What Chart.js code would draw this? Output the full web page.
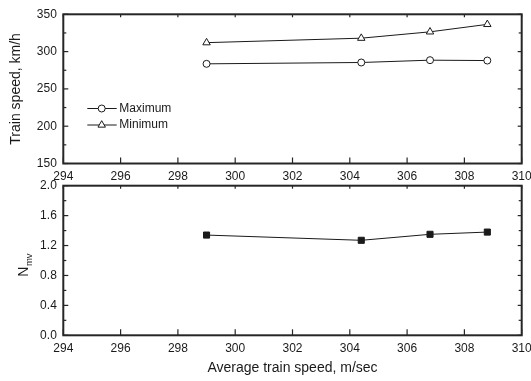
<!DOCTYPE html>
<html><head><meta charset="utf-8">
<script src="https://cdn.jsdelivr.net/npm/chart.js@4.4.0/dist/chart.umd.min.js"></script>
<style>
html,body{margin:0;padding:0;background:#fff;}
#wrap{position:relative;width:531px;height:381px;overflow:hidden;background:#fff;}
canvas{position:absolute;left:0;}
#c1{top:0;}
#c2{top:170px;}
</style></head><body>
<div id="wrap"><canvas id="c1" width="531" height="190"></canvas><canvas id="c2" width="531" height="211"></canvas></div>
<script>
// ---- data ----
const avgSpeed = [299.0, 304.4, 306.8, 308.8];
const maxTrainSpeed = [283.6, 285.4, 288.5, 288.0];
const minTrainSpeed = [312, 318, 326.5, 336.5];
const nmvValues = [1.34, 1.27, 1.35, 1.38];
const xTickValues = [294, 296, 298, 300, 302, 304, 306, 308, 310];
const speedTickValues = [150, 200, 250, 300, 350];
const nmvTickValues = [0.0, 0.4, 0.8, 1.2, 1.6, 2.0];
const seriesLabels = ['Maximum', 'Minimum'];

const FONT = '"Liberation Sans", Arial, sans-serif';
const INK = '#1a1a1a';

function pts(xs, ys){ return xs.map((x,i)=>({x:x, y:ys[i]})); }

function line(ctx,x1,y1,x2,y2){ ctx.beginPath(); ctx.moveTo(x1,y1); ctx.lineTo(x2,y2); ctx.stroke(); }

const framePlugin = {
  id:'frame',
  afterDraw(chart){
    const {ctx, chartArea:a} = chart;
    const x = chart.scales.x, y = chart.scales.y;
    ctx.save();
    ctx.strokeStyle = '#262626';
    ctx.lineWidth = 1.2;
    x.ticks.forEach(t=>{
      const p = x.getPixelForValue(t.value);
      line(ctx,p,a.bottom,p,a.bottom-6);
      line(ctx,p,a.top,p,a.top+3);
    });
    const yt = y.ticks;
    yt.forEach((t,i)=>{
      const p = y.getPixelForValue(t.value);
      line(ctx,a.left,p,a.left+5,p);
      line(ctx,a.right,p,a.right-4,p);
      if(i < yt.length-1){
        const m = y.getPixelForValue((t.value + yt[i+1].value)/2);
        line(ctx,a.left,m,a.left+3,m);
        line(ctx,a.right,m,a.right-3,m);
      }
    });
    ctx.lineWidth = 2;
    ctx.strokeRect(a.left, a.top, a.right-a.left, a.bottom-a.top);
    ctx.restore();
  }
};

const legendPlugin = {
  id:'inlegend',
  afterDraw(chart){
    const ctx = chart.ctx;
    ctx.save();
    chart.data.datasets.forEach((ds,i)=>{
      const yy = 108.5 + i*16.5;
      ctx.strokeStyle = INK; ctx.lineWidth = 1;
      line(ctx, 87.3, yy, 116.7, yy);
      ctx.fillStyle = '#fff'; ctx.strokeStyle = INK; ctx.lineWidth = 1;
      Chart.helpers.drawPoint(ctx, {pointStyle: ds.pointStyle, radius: ds.pointRadius, borderWidth: 1, rotation: 0}, 101.7, yy);
      ctx.fillStyle = INK;
      ctx.font = '12px ' + FONT;
      ctx.textAlign = 'left'; ctx.textBaseline = 'middle';
      ctx.fillText(ds.label, 119.3, yy);
    });
    ctx.restore();
  }
};

const nmvTitlePlugin = {
  id:'nmvtitle',
  afterDraw(chart){
    const ctx = chart.ctx;
    ctx.save();
    ctx.fillStyle = INK;
    ctx.translate(28, 106.7);
    ctx.rotate(-Math.PI/2);
    ctx.textAlign = 'left'; ctx.textBaseline = 'alphabetic';
    ctx.font = '14px ' + FONT;
    ctx.fillText('N', 0, 0);
    const w = ctx.measureText('N').width;
    ctx.font = '9.5px ' + FONT;
    ctx.fillText('mv', w + 0.5, 3.5);
    ctx.restore();
  }
};

function xScale(height, padTitle, showTitle, labelPad){
  return {
    type:'linear', min:294, max:310,
    afterBuildTicks(s){ s.ticks = xTickValues.map(v=>({value:v})); },
    afterFit(s){ s.height = height; s.paddingLeft = 0; s.paddingRight = 0; },
    grid:{display:false, drawTicks:false},
    border:{display:false},
    ticks:{color:INK, font:{family:FONT, size:12}, padding:labelPad, maxRotation:0, autoSkip:false},
    title:{display:showTitle, text:'Average train speed, m/sec', color:INK, font:{family:FONT, size:14}, padding:{top:0,bottom:padTitle}}
  };
}

function yScale(min, max, tickVals, fmt, title){
  return {
    type:'linear', min:min, max:max,
    afterBuildTicks(s){ s.ticks = tickVals.map(v=>({value:v})); },
    afterFit(s){ s.width = 63.3; s.paddingTop = 0; s.paddingBottom = 0; },
    grid:{display:false, drawTicks:false},
    border:{display:false},
    ticks:{color:INK, font:{family:FONT, size:12}, padding:6.5, callback:fmt},
    title:{display:!!title, text:title || '', color:INK, font:{family:FONT, size:14}, padding:{top:7.6,bottom:0}}
  };
}

const common = {
  responsive:false, animation:false, events:[],
  plugins:{legend:{display:false}, tooltip:{enabled:false}}
};

new Chart(document.getElementById('c1'), {
  type:'line',
  data:{datasets:[
    {label:seriesLabels[0], data:pts(avgSpeed, maxTrainSpeed), borderColor:INK, borderWidth:1, pointStyle:'circle', pointRadius:3.5, pointBorderWidth:1, pointBorderColor:INK, pointBackgroundColor:'#fff', tension:0, clip:false},
    {label:seriesLabels[1], data:pts(avgSpeed, minTrainSpeed), borderColor:INK, borderWidth:1, pointStyle:'triangle', pointRadius:4.3, pointBorderWidth:1, pointBorderColor:INK, pointBackgroundColor:'#fff', tension:0, clip:false}
  ]},
  options:Object.assign({}, common, {
    layout:{padding:{top:14.3, right:9.3, left:0, bottom:0}},
    scales:{
      x: xScale(26.5, 0, false, 5.5),
      y: yScale(150, 350, speedTickValues, v=>String(v), 'Train speed, km/h')
    }
  }),
  plugins:[framePlugin, legendPlugin]
});

new Chart(document.getElementById('c2'), {
  type:'line',
  data:{datasets:[
    {label:'Nmv', data:pts(avgSpeed, nmvValues), borderColor:INK, borderWidth:1, pointStyle:'rect', pointRadius:4.3, pointBorderWidth:1, pointBorderColor:INK, pointBackgroundColor:INK, tension:0, clip:false}
  ]},
  options:Object.assign({}, common, {
    layout:{padding:{top:15.7, right:9.3, left:0, bottom:0}},
    scales:{
      x: xScale(45.7, 4.6, true, 6.5),
      y: yScale(0, 2, nmvTickValues, v=>Number(v).toFixed(1), null)
    }
  }),
  plugins:[framePlugin, nmvTitlePlugin]
});
</script>
</body></html>
